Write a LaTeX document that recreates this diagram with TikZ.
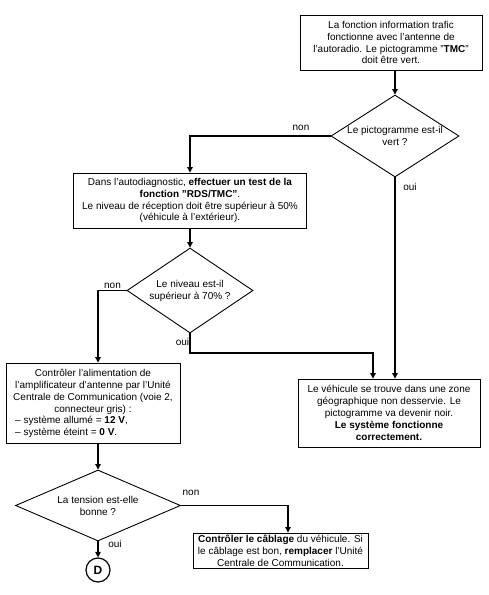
\documentclass[tikz,border=0pt]{standalone}
\usepackage{fontspec}
\setmainfont{Liberation Sans}
\usetikzlibrary{shapes.geometric,arrows.meta}
\begin{document}
\begin{tikzpicture}[x=1pt,y=-1pt,
  every node/.style={font=\fontsize{10}{11.9}\selectfont},
  box/.style={draw,line width=0.9pt,inner sep=0pt,align=center,anchor=center},
  dia/.style={draw,diamond,line width=0.9pt,inner sep=0pt},
  conn/.style={line width=1.1pt,-{Triangle[width=5.5pt,length=5.5pt]}},
  lbl/.style={inner sep=0pt}]
\useasboundingbox (0,0) rectangle (489,595);
% boxes
\node[box,minimum width=182pt,minimum height=55pt] (b1) at (391,42.5)
  {La fonction information trafic\\fonctionne avec l'antenne de\\l'autoradio. Le pictogramme "\textbf{TMC}"\\doit être vert.};
\node[box,minimum width=233pt,minimum height=55pt] (b2) at (190,200.5)
  {Dans l'autodiagnostic, \textbf{effectuer un test de la}\\\textbf{fonction "RDS/TMC"}.\\Le niveau de réception doit être supérieur à 50\%\\(véhicule à l'extérieur).};
\node[box,minimum width=174pt,minimum height=80pt,align=left] (b3) at (93,403)
  {\begin{tabular}{@{}c@{}}Contrôler l'alimentation de\\l'amplificateur d'antenne par l'Unité\\Centrale de Communication (voie 2,\\connecteur gris) :\end{tabular}\\
   \hspace*{2pt}-- système allumé = \textbf{12 V},\\\hspace*{2pt}-- système éteint = \textbf{0 V}.};
\node[box,minimum width=182pt,minimum height=68pt] (b4) at (389,413)
  {Le véhicule se trouve dans une zone\\géographique non desservie. Le\\pictogramme va devenir noir.\\\textbf{Le système fonctionne}\\\textbf{correctement.}};
\node[box,minimum width=175pt,minimum height=35pt] (b5) at (280.5,550.5)
  {\textbf{Contrôler le câblage} du véhicule. Si\\le câblage est bon, \textbf{remplacer} l'Unité\\Centrale de Communication.};
% diamonds
\node[dia,minimum width=128pt,minimum height=82pt] (d1) at (395,136) {};
\node[align=center] (t1) at (d1) {Le pictogramme est-il\\vert ?};
\node[dia,minimum width=126pt,minimum height=85pt] (d2) at (190,290.5) {};
\node[align=center] (t2) at (d2) {Le niveau est-il\\supérieur à 70\% ?};
\node[dia,minimum width=165pt,minimum height=71pt] (d3) at (98,505.5) {};
\node[align=center] (t3) at (d3) {La tension est-elle\\bonne ?};
% terminal
\node[draw,circle,line width=1.2pt,minimum size=24pt,inner sep=0pt,font=\fontsize{12}{14}\selectfont\bfseries] (D) at (98,570) {D};
% coordinates
\coordinate (j) at (373,353);
\coordinate (k) at (288,505.5);
% connectors
\draw[conn] (d1.north |- b1.south) -- (d1.north);
\draw[conn] (d1.west) -| (b2.north);
\draw[conn] (d1.south) -- (d1.south |- b4.north);
\draw[conn] (d2.north |- b2.south) -- (d2.north);
\draw[conn] (d2.west) -| (d3.north |- b3.north);
\draw[conn] (d2.south) |- (j) -- (j |- b4.north);
\draw[conn] (d3.north |- b3.south) -- (d3.north);
\draw[conn] (d3.east) -- (k) -- (k |- b5.north);
\draw[conn] (d3.south) -- (D.north);
% labels
\node[lbl] (n1) at (301,128) {non};
\node[lbl] (o1) at (410,187) {oui};
\node[lbl] (n2) at (112.5,286) {non};
\node[lbl] (o2) at (182.5,342) {oui};
\node[lbl] (n3) at (191,493) {non};
\node[lbl] (o3) at (115,544) {oui};
\end{tikzpicture}
\end{document}
